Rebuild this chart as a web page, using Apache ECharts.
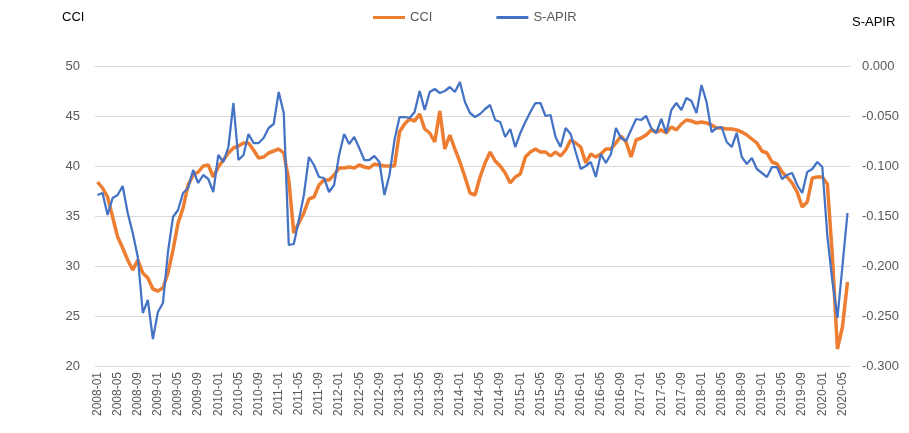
<!DOCTYPE html>
<html>
<head>
<meta charset="utf-8">
<script src="https://cdn.jsdelivr.net/npm/echarts@6/dist/echarts.min.js"></script>
<style>
  html, body { margin: 0; padding: 0; background: #fff; }
  #chart { width: 909px; height: 433px; }
</style>
</head>
<body>
<div id="chart"></div>
<script>
// monthly categories 2008-01 .. 2020-06
const months = [];
for (let y = 2008; y <= 2020; y++) {
  for (let m = 1; m <= 12; m++) {
    if (y === 2020 && m > 6) break;
    months.push(y + "-" + String(m).padStart(2, "0"));
  }
}

const cci = [
  38.4, 37.8, 36.9, 34.9, 32.9, 31.8, 30.6, 29.6, 30.6, 29.3, 28.8, 27.7,
  27.5, 27.8, 29.3, 31.6, 34.3, 35.8, 38.1, 39.1, 39.4, 40.0, 40.1, 38.9,
  39.9, 40.6, 41.3, 41.8, 42.0, 42.3, 42.3, 41.6, 40.8, 40.9, 41.3, 41.5,
  41.7, 41.3, 38.6, 33.3, 34.3, 35.3, 36.7, 36.9, 38.1, 38.6, 38.6, 39.1,
  39.8, 39.8, 39.9, 39.8, 40.1, 39.9, 39.8, 40.2, 40.1, 40.0, 40.0, 40.0,
  43.4, 44.2, 44.7, 44.5, 45.2, 43.7, 43.3, 42.4, 45.5, 41.7, 43.1, 41.7,
  40.4, 38.9, 37.3, 37.1, 38.9, 40.3, 41.4, 40.5, 40.0, 39.3, 38.3, 38.9,
  39.2, 40.9, 41.4, 41.7, 41.4, 41.4, 41.0, 41.4, 41.0, 41.6, 42.6, 42.3,
  41.9, 40.3, 41.2, 40.9, 41.2, 41.7, 41.7, 42.3, 43.0, 42.4, 40.9, 42.6,
  42.8, 43.1, 43.6, 43.4, 43.6, 43.3, 43.9, 43.6, 44.2, 44.6, 44.5, 44.3,
  44.4, 44.3, 44.1, 43.8, 43.8, 43.7, 43.7, 43.6, 43.4, 43.1, 42.7, 42.3,
  41.5, 41.3, 40.4, 40.2, 39.4, 38.9, 38.3, 37.4, 35.9, 36.4, 38.8, 38.9,
  38.9, 38.2, 31.0, 21.7, 23.9, 28.4
];

const sapir = [
  -0.129, -0.127, -0.149, -0.132, -0.129, -0.120, -0.147, -0.167, -0.191, -0.247, -0.234, -0.273,
  -0.246, -0.237, -0.186, -0.151, -0.144, -0.127, -0.122, -0.104, -0.117, -0.109, -0.113, -0.126,
  -0.089, -0.096, -0.081, -0.037, -0.094, -0.089, -0.068, -0.077, -0.077, -0.072, -0.062, -0.058,
  -0.026, -0.047, -0.179, -0.178, -0.154, -0.129, -0.091, -0.099, -0.111, -0.112, -0.126, -0.119,
  -0.089, -0.068, -0.078, -0.071, -0.082, -0.094, -0.094, -0.090, -0.096, -0.129, -0.109, -0.074,
  -0.051, -0.051, -0.052, -0.046, -0.025, -0.044, -0.026, -0.023, -0.027, -0.025, -0.021, -0.026,
  -0.016, -0.036, -0.047, -0.051, -0.048, -0.043, -0.039, -0.054, -0.056, -0.071, -0.063, -0.081,
  -0.067, -0.056, -0.046, -0.037, -0.037, -0.050, -0.049, -0.071, -0.081, -0.062, -0.068, -0.086,
  -0.103, -0.100, -0.096, -0.111, -0.088, -0.097, -0.088, -0.062, -0.072, -0.075, -0.064, -0.053,
  -0.054, -0.050, -0.062, -0.067, -0.053, -0.067, -0.044, -0.037, -0.044, -0.032, -0.035, -0.047,
  -0.019, -0.036, -0.066, -0.062, -0.061, -0.076, -0.081, -0.067, -0.091, -0.098, -0.092, -0.103,
  -0.107, -0.111, -0.101, -0.101, -0.113, -0.109, -0.107, -0.119, -0.127, -0.106, -0.103, -0.096,
  -0.101, -0.170, -0.215, -0.252, -0.200, -0.147
];

const leftTicks = { min: 20, max: 50, step: 5 };
const rightTicks = { min: -0.3, max: 0, step: 0.05 };

const FONT = "'Liberation Sans', Arial, sans-serif";
const GREY = "#595959";

const chart = echarts.init(document.getElementById("chart"));

chart.setOption({
  animation: false,
  textStyle: { fontFamily: FONT },
  grid: { left: 95, right: 59, top: 66, bottom: 67, containLabel: false },

  legend: {
    left: 368,
    top: 6,
    icon: "rect",
    itemWidth: 32,
    itemHeight: 3,
    itemGap: 64,
    textStyle: { color: GREY, fontSize: 13, fontFamily: FONT },
    data: ["CCI", "S-APIR"]
  },

  graphic: [
    { type: "text", left: 62, top: 11, style: { text: "CCI", fill: "#000", font: "13px " + FONT } },
    { type: "text", left: 852, top: 16, style: { text: "S-APIR", fill: "#000", font: "13px " + FONT } }
  ],

  xAxis: {
    type: "category",
    data: months,
    boundaryGap: true,
    axisLine: { lineStyle: { color: "#d9d9d9" } },
    axisTick: { show: false },
    axisLabel: {
      interval: 3,
      rotate: 90,
      color: GREY,
      fontSize: 12,
      margin: 6
    }
  },

  yAxis: [
    {
      type: "value",
      min: leftTicks.min,
      max: leftTicks.max,
      interval: leftTicks.step,
      axisLine: { show: false },
      axisTick: { show: false },
      axisLabel: { color: GREY, fontSize: 13, margin: 15 },
      splitLine: { lineStyle: { color: "#d9d9d9" } }
    },
    {
      type: "value",
      min: rightTicks.min,
      max: rightTicks.max,
      interval: rightTicks.step,
      axisLine: { show: false },
      axisTick: { show: false },
      axisLabel: { color: GREY, fontSize: 13, margin: 12, formatter: (v) => v.toFixed(3) },
      splitLine: { show: false }
    }
  ],

  series: [
    {
      name: "CCI",
      type: "line",
      data: cci,
      yAxisIndex: 0,
      showSymbol: false,
      z: 2,
      itemStyle: { color: "#ED7D31" },
      lineStyle: { color: "#ED7D31", width: 3.5 }
    },
    {
      name: "S-APIR",
      type: "line",
      data: sapir,
      yAxisIndex: 1,
      showSymbol: false,
      z: 3,
      itemStyle: { color: "#4472C4" },
      lineStyle: { color: "#4472C4", width: 2.25 }
    }
  ]
});
</script>
</body>
</html>
